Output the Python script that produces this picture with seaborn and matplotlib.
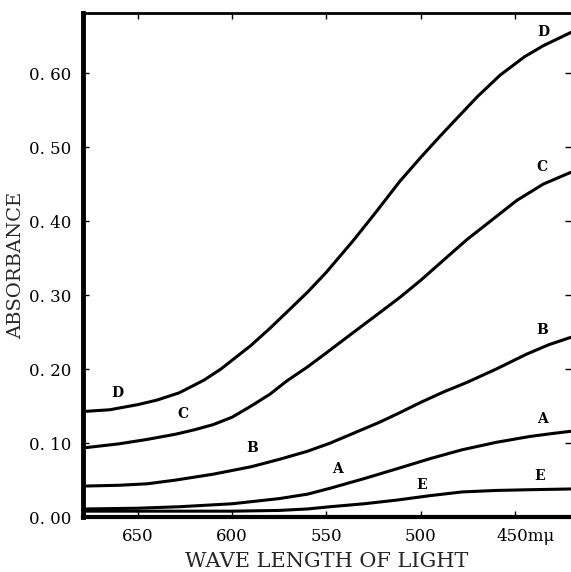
import pandas as pd
import seaborn as sns
import matplotlib.pyplot as plt
import matplotlib.transforms as mtransforms

# curves (wavelength in m-mu, absorbance)
wl_D = [677.1, 665, 650, 640, 628, 615, 606, 600, 590, 580, 571, 560, 550, 536,
        525, 511, 500, 490, 483, 470, 458, 445, 435, 426, 420.3]
ab_D = [0.143, 0.145, 0.152, 0.158, 0.168, 0.185, 0.200, 0.212, 0.232, 0.255, 0.277,
        0.304, 0.331, 0.373, 0.408, 0.454, 0.486, 0.514, 0.533, 0.568, 0.597, 0.622,
        0.637, 0.648, 0.655]

wl_C = [677.1, 660, 645, 630, 620, 610, 600, 590, 580, 571, 560, 550, 536, 525,
        511, 500, 488, 475.5, 462, 449, 435, 420.3]
ab_C = [0.094, 0.099, 0.105, 0.112, 0.118, 0.125, 0.135, 0.150, 0.166, 0.184, 0.203,
        0.222, 0.249, 0.270, 0.297, 0.320, 0.347, 0.375, 0.402, 0.428, 0.450, 0.466]

wl_B = [677.1, 660, 645, 630, 610, 590, 575, 560, 548, 535, 522, 512, 500, 488,
        475.5, 460, 444, 432, 420.3]
ab_B = [0.042, 0.043, 0.045, 0.050, 0.058, 0.068, 0.078, 0.089, 0.100, 0.114, 0.128,
        0.140, 0.155, 0.169, 0.182, 0.200, 0.220, 0.233, 0.243]

wl_A = [677.1, 650, 628, 600, 575, 560, 548, 530, 513, 495, 478, 460, 442, 430, 420.3]
ab_A = [0.011, 0.012, 0.014, 0.018, 0.025, 0.031, 0.039, 0.052, 0.065, 0.079, 0.091,
        0.101, 0.109, 0.113, 0.116]

wl_E = [677.1, 640, 600, 575, 560, 548, 530, 512.6, 495, 478, 460, 442, 420.3]
ab_E = [0.008, 0.008, 0.008, 0.009, 0.011, 0.014, 0.018, 0.023, 0.029, 0.034, 0.036,
        0.037, 0.038]

# curve letters, two per curve
lab_txt = ["D", "D", "C", "C", "B", "B", "A", "A", "E", "E"]
lab_x = [661.1, 435.2, 626.1, 435.7, 589.5, 435.7, 544.4, 435.2, 499.3, 436.7]
lab_y = [0.168, 0.655, 0.139, 0.473, 0.094, 0.253, 0.065, 0.132, 0.043, 0.055]

xticks = [650, 600, 550, 500, 450]
xlabels = ["650", "600", "550", "500", "450m\u03bc"]
yticks = [0.0, 0.1, 0.2, 0.3, 0.4, 0.5, 0.6]
ylabels = ["0. 00", "0. 10", "0. 20", "0. 30", "0. 40", "0. 50", "0. 60"]

frames = []
for name, wl, ab in [("D", wl_D, ab_D), ("C", wl_C, ab_C), ("B", wl_B, ab_B),
                     ("A", wl_A, ab_A), ("E", wl_E, ab_E)]:
    frames.append(pd.DataFrame({"wl": wl, "ab": ab, "curve": name}))
df = pd.concat(frames, ignore_index=True)

sns.set_theme(style="ticks")
plt.rcParams["font.family"] = ["DejaVu Serif"]

fig = plt.figure(figsize=(5.71, 5.72), dpi=100)
ax = fig.add_axes([0.145, 0.096, 0.855, 0.881])

sns.lineplot(data=df, x="wl", y="ab", hue="curve", palette=["black"] * 5,
             linewidth=2.2, legend=False, ax=ax, estimator=None)

for t, x, y in zip(lab_txt, lab_x, lab_y):
    ax.text(x, y, t, ha="center", va="center", fontsize=10, fontweight="bold",
            color="black")

ax.set_xlim(679.2, 420.3)
ax.set_ylim(0.0, 0.681)
ax.set_xticks(xticks)
ax.set_xticklabels(xlabels)
ax.set_yticks(yticks)
ax.set_yticklabels(ylabels)
ax.tick_params(direction="in", length=4, width=1, labelsize=12, colors="black",
               top=True, right=True, pad=8)
# shift "450mμ" so that 450 sits under its tick
lbl = ax.get_xticklabels()[-1]
lbl.set_transform(lbl.get_transform() + mtransforms.ScaledTranslation(11 / 100, 0, fig.dpi_scale_trans))

for side, lw in [("left", 3.5), ("bottom", 3.0), ("top", 2.0)]:
    ax.spines[side].set_linewidth(lw)
    ax.spines[side].set_color("black")
ax.spines["right"].set_visible(False)

ax.set_xlabel("WAVE LENGTH OF LIGHT", fontsize=15, labelpad=5)
ax.set_ylabel("ABSORBANCE", fontsize=14, labelpad=3)

plt.savefig("out.png", dpi=100)
